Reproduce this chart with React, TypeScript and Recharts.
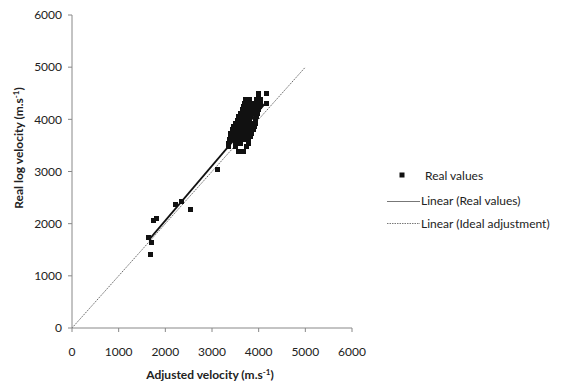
import React from 'react';
import { ScatterChart, Scatter, XAxis, YAxis, ReferenceLine, Label } from 'recharts';

const xTicks = [0, 1000, 2000, 3000, 4000, 5000, 6000];
const yTicks = [0, 1000, 2000, 3000, 4000, 5000, 6000];

// Real values: adjusted velocity (x) vs real log velocity (y)
const lowRangeX = [1643, 1707, 1686, 1743, 1800, 2221, 2336, 2543, 3121];
const lowRangeY = [1731, 1648, 1413, 2057, 2095, 2364, 2434, 2281, 3035];

const clusterX = [
  3993, 4172, 3993, 4172,
  3722, 3808, 3957, 4029,
  3707, 3793, 3879, 3965, 4029,
  3679, 3765, 3850, 3936, 4015,
  3643, 3729, 3815, 3900, 3993,
  3607, 3693, 3779, 3865, 3972,
  3572, 3657, 3743, 3829, 3957,
  3536, 3622, 3707, 3793, 3936,
  3500, 3586, 3672, 3757, 3843, 3922,
  3464, 3550, 3636, 3722, 3808, 3900,
  3429, 3515, 3600, 3686, 3772, 3886,
  3407, 3493, 3579, 3664, 3750, 3850,
  3386, 3472, 3557, 3643, 3729, 3815,
  3365, 3450, 3536, 3622, 3707, 3779,
  3350, 3493, 3600, 3779,
  3350, 3493, 3743,
  3564, 3672,
];
const clusterY = [
  4499, 4499, 4403, 4300,
  4371, 4371, 4371, 4380,
  4307, 4307, 4307, 4307, 4307,
  4243, 4243, 4243, 4243, 4243,
  4179, 4179, 4179, 4179, 4179,
  4115, 4115, 4115, 4115, 4115,
  4051, 4051, 4051, 4051, 4051,
  3987, 3987, 3987, 3987, 3987,
  3923, 3923, 3923, 3923, 3923, 3923,
  3859, 3859, 3859, 3859, 3859, 3859,
  3796, 3796, 3796, 3796, 3796, 3796,
  3732, 3732, 3732, 3732, 3732, 3732,
  3668, 3668, 3668, 3668, 3668, 3668,
  3604, 3604, 3604, 3604, 3604, 3604,
  3540, 3540, 3540, 3540,
  3476, 3476, 3476,
  3380, 3380,
];

// Linear trend of real values, and ideal adjustment (y = x)
const trendX = [1643, 4170];
const trendY = [1685, 4338];
const idealX = [0, 5000];
const idealY = [0, 5000];

const realValues = [
  ...lowRangeX.map((x, i) => ({ x, y: lowRangeY[i] })),
  ...clusterX.map((x, i) => ({ x, y: clusterY[i] })),
];

const FONT = 'Lato, "Open Sans", sans-serif';
const TEXT = '#222';

const Square = (props: any) => (
  <rect x={props.cx - 2.5} y={props.cy - 2.5} width={5} height={5} fill="#111" shapeRendering="crispEdges" />
);

export default function App() {
  return (
    <div style={{ position: 'absolute', left: 0, top: 0, width: 563, height: 385, background: '#fff' }}>
      <ScatterChart
        width={563}
        height={385}
        margin={{ top: 15, right: 211, bottom: 0, left: 0 }}
      >
        <XAxis
          type="number"
          dataKey="x"
          domain={[0, 6000]}
          ticks={xTicks}
          interval={0}
          height={57}
          stroke="#888"
          tickSize={4}
          tickMargin={15}
          tick={{ fill: TEXT, fontSize: 12, fontFamily: FONT }}
          allowDataOverflow
        >
          <Label
            content={() => (
              <text x={210} y={379} textAnchor="middle" fontFamily={FONT} fontWeight="bold" fontSize={12} fill={TEXT}>
                Adjusted velocity (m.s<tspan dy={-4} fontSize={8}>-1</tspan><tspan dy={4}>)</tspan>
              </text>
            )}
          />
        </XAxis>
        <YAxis
          type="number"
          dataKey="y"
          domain={[0, 6000]}
          ticks={yTicks}
          interval={0}
          width={72}
          stroke="#888"
          tickSize={4}
          tickMargin={6}
          tick={{ fill: TEXT, fontSize: 12, fontFamily: FONT }}
          allowDataOverflow
        >
          <Label
            content={() => (
              <text x={23} y={148} transform="rotate(-90 23 148)" textAnchor="middle" fontFamily={FONT} fontWeight="bold" fontSize={12} fill={TEXT}>
                Real log velocity (m.s<tspan dy={-4} fontSize={8}>-1</tspan><tspan dy={4}>)</tspan>
              </text>
            )}
          />
        </YAxis>
        <ReferenceLine
          segment={[{ x: idealX[0], y: idealY[0] }, { x: idealX[1], y: idealY[1] }]}
          stroke="#444"
          strokeWidth={0.8}
          strokeDasharray="1.5 1"
          ifOverflow="visible"
        />
        <Scatter data={realValues} shape={<Square />} isAnimationActive={false} />
        <ReferenceLine
          segment={[{ x: trendX[0], y: trendY[0] }, { x: trendX[1], y: trendY[1] }]}
          stroke="#111"
          strokeWidth={1.8}
          ifOverflow="visible"
        />
      </ScatterChart>
      <svg
        width={203}
        height={80}
        style={{ position: 'absolute', left: 360, top: 160 }}
      >
        <rect x={39.5} y={12.5} width={5} height={5} fill="#111" />
        <text x={65} y={20} fontFamily={FONT} fontSize={12} fill={TEXT}>Real values</text>
        <line x1={27} x2={60} y1={41.5} y2={41.5} stroke="#777" strokeWidth={1.2} />
        <text x={61} y={45} fontFamily={FONT} fontSize={12} fill={TEXT}>Linear (Real values)</text>
        <line x1={27} x2={60} y1={63.5} y2={63.5} stroke="#555" strokeWidth={0.8} strokeDasharray="1.5 1" />
        <text x={61} y={68} fontFamily={FONT} fontSize={12} fill={TEXT}>Linear (Ideal adjustment)</text>
      </svg>
    </div>
  );
}
